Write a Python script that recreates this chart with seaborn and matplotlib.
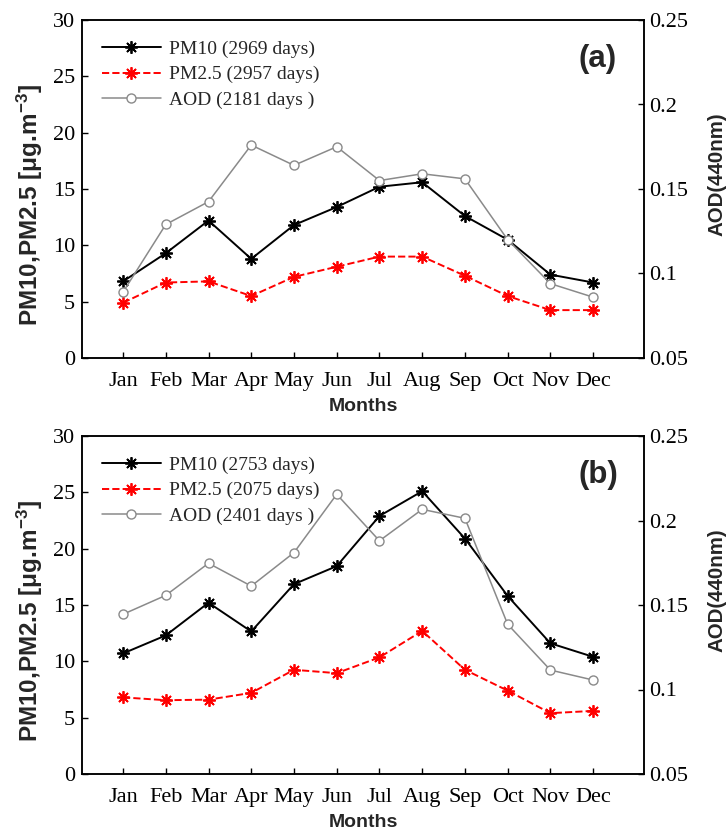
import numpy as np
import pandas as pd
import matplotlib
matplotlib.use("Agg")
import matplotlib.pyplot as plt
import seaborn as sns

# Monthly means
months = ["Jan", "Feb", "Mar", "Apr", "May", "Jun",
          "Jul", "Aug", "Sep", "Oct", "Nov", "Dec"]
month_num = list(range(1, 13))

pm10_a = [6.8, 9.3, 12.2, 8.8, 11.8, 13.4, 15.2, 15.6, 12.6, 10.5, 7.4, 6.7]
pm25_a = [4.9, 6.7, 6.8, 5.5, 7.2, 8.1, 9.0, 9.0, 7.3, 5.5, 4.25, 4.25]
aod_a = [0.089, 0.129, 0.1425, 0.176, 0.164, 0.175, 0.155, 0.159, 0.156, 0.120, 0.094, 0.086]

pm10_b = [10.7, 12.3, 15.2, 12.65, 16.85, 18.45, 22.9, 25.1, 20.9, 15.8, 11.6, 10.4]
pm25_b = [6.8, 6.55, 6.6, 7.2, 9.25, 8.95, 10.35, 12.7, 9.25, 7.4, 5.4, 5.6]
aod_b = [0.1445, 0.1557, 0.1747, 0.1612, 0.181, 0.2155, 0.188, 0.2066, 0.2013, 0.1386, 0.1115, 0.1056]

legend_a = ["PM10 (2969 days)", "PM2.5 (2957 days)", "AOD (2181 days )"]
legend_b = ["PM10 (2753 days)", "PM2.5 (2075 days)", "AOD (2401 days )"]
panel_tags = ["(a)", "(b)"]

pm_ticks = [0, 5, 10, 15, 20, 25, 30]
aod_ticks = [0.05, 0.1, 0.15, 0.2, 0.25]
aod_ticklabels = ["0.05", "0.1", "0.15", "0.2", "0.25"]

sns.set_theme(style="white")
plt.rcParams.update({
    "font.family": ["Liberation Sans", "DejaVu Sans"],
    "mathtext.fontset": "custom",
    "mathtext.bf": "Liberation Sans:bold",
    "mathtext.rm": "Liberation Sans",
    "mathtext.default": "bf",
    "axes.edgecolor": "black",
    "axes.linewidth": 1.1,
})

SERIF = ["Liberation Serif", "DejaVu Serif"]
ASTER = (8, 2, 0)
GRAY = "#8a8a8a"

fig = plt.figure(figsize=(7.28, 8.36), dpi=100)
W, H = 728, 836
left, width = 82 / W, 562 / W
height = 338 / H
bottoms = [(H - 358) / H, (H - 774) / H]

panels = [(pm10_a, pm25_a, aod_a, legend_a), (pm10_b, pm25_b, aod_b, legend_b)]

for i, (pm10, pm25, aod, labels) in enumerate(panels):
    ax = fig.add_axes([left, bottoms[i], width, height])
    ax2 = ax.twinx()

    df = pd.DataFrame({"month": month_num, "pm10": pm10, "pm25": pm25, "aod": aod})

    sns.lineplot(data=df, x="month", y="pm10", ax=ax, color="black",
                 linewidth=1.4, marker=ASTER, markersize=9, markeredgewidth=1.3,
                 markeredgecolor="black", legend=False)
    sns.lineplot(data=df, x="month", y="pm25", ax=ax, color="red",
                 linewidth=1.4, linestyle="--", marker=ASTER, markersize=9,
                 markeredgewidth=1.3, markeredgecolor="red", legend=False)
    sns.lineplot(data=df, x="month", y="aod", ax=ax2, color=GRAY,
                 linewidth=1.1, marker="o", markersize=6.5, markerfacecolor="white",
                 markeredgecolor=GRAY, markeredgewidth=1.0, legend=False)

    ax.set_xlim(0.04, 13.19)
    ax.set_ylim(0, 30)
    ax2.set_ylim(0.05, 0.25)

    ax.set_xticks(month_num)
    ax.set_xticklabels(months, fontfamily=SERIF, fontsize=16)
    ax.set_yticks(pm_ticks)
    ax.set_yticklabels([str(t) for t in pm_ticks], fontfamily=SERIF, fontsize=16)
    ax2.set_yticks(aod_ticks)
    ax2.set_yticklabels(aod_ticklabels, fontfamily=SERIF, fontsize=16)

    for a in (ax, ax2):
        a.tick_params(direction="in", length=4, width=1.0, color="black",
                      labelcolor="black")
        for s in a.spines.values():
            s.set_visible(True)
            s.set_color("black")
            s.set_linewidth(1.1)
    ax.tick_params(axis="x", pad=10, top=False, bottom=True)
    ax.tick_params(axis="y", pad=5, left=True, right=False)
    ax2.tick_params(axis="y", pad=4, right=True, left=False)

    ax.set_xlabel("Months", fontsize=14, fontweight="bold")
    ax.xaxis.set_label_coords(0.5, -0.118)
    ax.set_ylabel(r"PM10,PM2.5 [μg.m$^{-3}$]", fontsize=17.5, fontweight="bold")
    ax.yaxis.set_label_coords(-0.0925, 0.453)
    ax.yaxis.label.set_va("center")
    ax2.set_ylabel("AOD(440nm)", fontsize=14.8, fontweight="bold", rotation=90)
    ax2.yaxis.set_label_coords(1.13, 0.545)
    ax2.yaxis.label.set_va("center")

    ax.text(0.918, 0.886, panel_tags[i], transform=ax.transAxes,
            fontsize=22.5, fontweight="bold", ha="center", va="center")

    handles = [ax.lines[0], ax.lines[1], ax2.lines[0]]
    leg = ax2.legend(handles, labels, loc="upper left",
                     bbox_to_anchor=(0.036, 0.94), frameon=False,
                     prop={"family": SERIF, "size": 14},
                     handlelength=3.0, handletextpad=0.45,
                     labelspacing=0.4, borderpad=0, borderaxespad=0)

fig.savefig("out.png", dpi=100)
